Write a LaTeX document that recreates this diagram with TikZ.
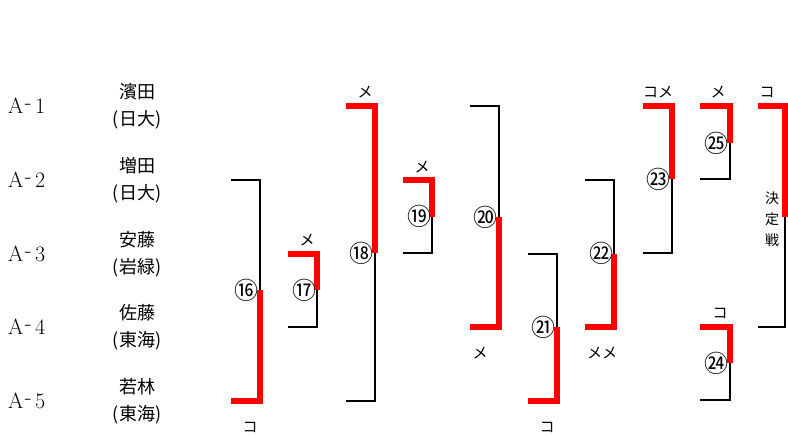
\documentclass[tikz,border=0pt]{standalone}
\usepackage{fontspec}
\newfontfamily\jp{Noto Sans CJK JP}
\newcommand\bracketT[6]{%
  \coordinate (#1tl) at (#2,#4); \coordinate (#1tr) at (#3,#4);
  \coordinate (#1m) at (#3,#5); \coordinate (#1br) at (#3,#6); \coordinate (#1bl) at (#2,#6);
  \draw[lose] (#1m) -- (#1br) -- (#1bl);
  \draw[win] (#1tl) -- (#1tr) -- (#1m);}
\newcommand\bracketB[6]{%
  \coordinate (#1tl) at (#2,#4); \coordinate (#1tr) at (#3,#4);
  \coordinate (#1m) at (#3,#5); \coordinate (#1br) at (#3,#6); \coordinate (#1bl) at (#2,#6);
  \draw[lose] (#1tl) -- (#1tr) -- (#1m);
  \draw[win] (#1m) -- (#1br) -- (#1bl);}
\newcommand\entrytext[1]{A\kern1.5pt\raisebox{4pt}{-}\kern3.5pt#1}
\begin{document}
\begin{tikzpicture}[x=1pt,y=-1pt,
  win/.style={draw=red, line width=6.5pt, line cap=butt, line join=miter},
  lose/.style={draw=black, line width=2pt, line cap=butt, line join=miter},
  entry/.style={font=\fontsize{22}{26}\selectfont, anchor=west, inner sep=0},
  player/.style={font=\jp\fontsize{18}{27}\selectfont, align=center, inner sep=0},
  num/.style={font=\jp\fontsize{24}{24}\selectfont, inner sep=0},
  tally/.style={font=\jp\fontsize{15}{15}\selectfont, inner sep=0},
]
\useasboundingbox (0,0) rectangle (788,435);

% entries
\node[entry] (e1) at (8,106) {\entrytext{1}};
\node[entry] (e2) at (8,180) {\entrytext{2}};
\node[entry] (e3) at (8,254) {\entrytext{3}};
\node[entry] (e4) at (8,327) {\entrytext{4}};
\node[entry] (e5) at (8,401) {\entrytext{5}};
\node[player] (p1) at (137,106) {濱田\\(日大)};
\node[player] (p2) at (137,180) {増田\\(日大)};
\node[player] (p3) at (137,254) {安藤\\(岩緑)};
\node[player] (p4) at (137,327) {佐藤\\(東海)};
\node[player] (p5) at (137,401) {若林\\(東海)};

% brackets
\bracketB{b16}{231}{260}{180}{290}{401}
\bracketT{b17}{288}{317}{254}{290}{327}
\bracketT{b18}{346}{375}{106}{253}{401}
\bracketT{b19}{403}{432}{180}{217}{253}
\bracketB{b20}{470}{499}{106}{217}{327}
\bracketB{b21}{528}{557}{254}{327}{401}
\bracketB{b22}{585}{614}{180}{254}{327}
\bracketT{b23}{643}{672}{106}{179}{253}
\bracketT{b25}{700}{730}{106}{143}{179}
\bracketT{b24}{700}{730}{327}{363}{400}
\bracketT{bf}{758}{785}{106}{217}{327}

% match numbers
\node[num] (n16) at (246,290) {⑯};
\node[num] (n17) at (304,290) {⑰};
\node[num] (n18) at (361,253) {⑱};
\node[num] (n19) at (419,216) {⑲};
\node[num] (n20) at (485,217) {⑳};
\node[num] (n21) at (543,327) {㉑};
\node[num] (n22) at (601,253) {㉒};
\node[num] (n23) at (658,179) {㉓};
\node[num] (n25) at (716,143) {㉕};
\node[num] (n24) at (716,363) {㉔};
\node[font=\jp\fontsize{14}{21}\selectfont, align=center, inner sep=0] (fin) at (772,219) {決\\定\\戦};

% results
\node[tally] (m16) at (250,427) {コ};
\node[tally] (m17) at (307,240) {メ};
\node[tally] (m18) at (365,92) {メ};
\node[tally] (m19) at (422,167) {メ};
\node[tally] (m20) at (480,353) {メ};
\node[tally] (m21) at (547,427) {コ};
\node[tally] (m22) at (602,353) {メメ};
\node[tally] (m23) at (658,92) {コメ};
\node[tally] (m25) at (718,92) {メ};
\node[tally] (m24) at (720,313) {コ};
\node[tally] (mf) at (767,92) {コ};
\end{tikzpicture}
\end{document}
